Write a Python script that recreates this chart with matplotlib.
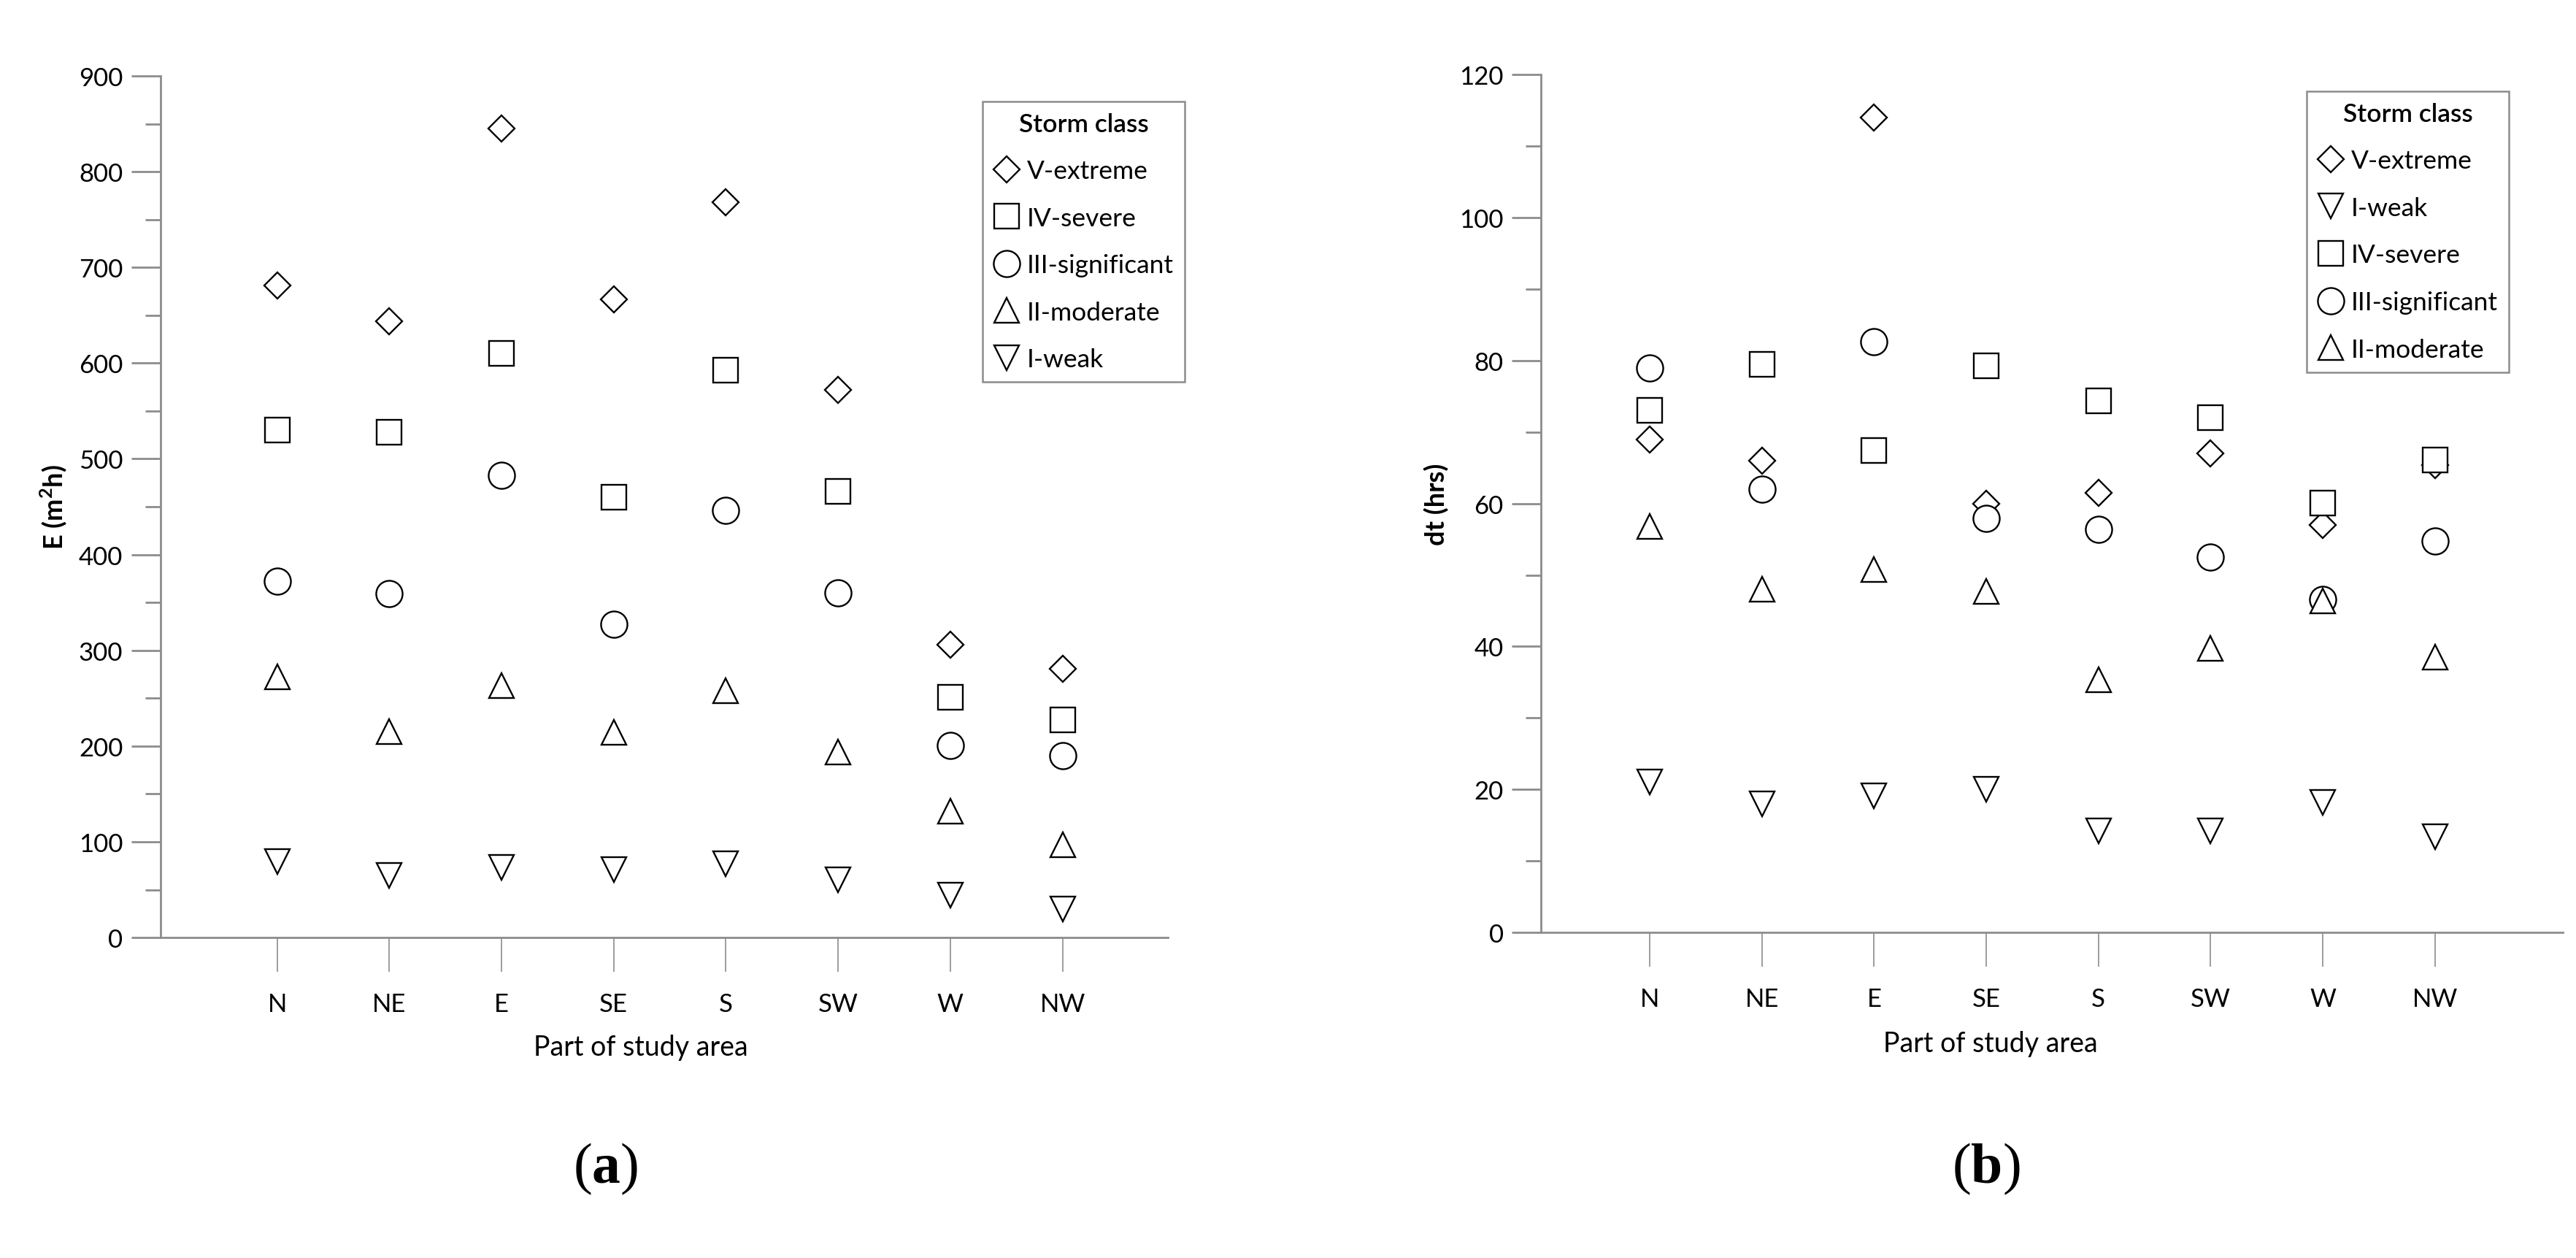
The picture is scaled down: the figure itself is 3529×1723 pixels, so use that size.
import numpy as np
import matplotlib
matplotlib.use('Agg')
import matplotlib.pyplot as plt
from matplotlib.ticker import MultipleLocator

plt.rcParams['font.family'] = ['Lato', 'DejaVu Sans']
plt.rcParams['mathtext.fontset'] = 'custom'
plt.rcParams['mathtext.rm'] = 'Liberation Serif'
plt.rcParams['mathtext.bf'] = 'Liberation Serif:bold'

areas = ['N', 'NE', 'E', 'SE', 'S', 'SW', 'W', 'NW']

# (a) storm energy E (m2h)
e_extreme = [681, 644, 845, 667, 768, 572, 306, 281]
e_severe = [530, 528, 610, 460, 593, 466, 251, 227]
e_signif = [372, 359, 483, 327, 446, 360, 201, 190]
e_moderate = [272, 215, 263, 214, 258, 194, 132, 97]
e_weak = [79, 65, 73, 71, 77, 60, 44, 30]

# (b) storm duration dt (hrs)
dt_extreme = [69, 66, 114, 60, 61.5, 67, 57, 65.4]
dt_weak = [21, 18, 19.1, 20, 14.2, 14.2, 18.2, 13.4]
dt_severe = [73, 79.5, 67.4, 79.3, 74.4, 72, 60.1, 66.1]
dt_signif = [79, 62, 82.7, 57.9, 56.4, 52.5, 46.6, 54.8]
dt_moderate = [56.8, 48, 50.8, 47.7, 35.4, 39.7, 46.4, 38.5]

styles = {
    'V-extreme': ('D', 18),
    'IV-severe': ('s', 25),
    'III-significant': ('o', 26),
    'II-moderate': ('^', 24),
    'I-weak': ('v', 24),
}

gray = '#8c8c8c'
x = np.arange(1, len(areas) + 1)


def draw(ax, series, ymax, ystep, ylabel, xlim, xlab_pos, xlab_y):
    for name, vals in series:
        m, ms = styles[name]
        ax.plot(x, vals, linestyle='none', marker=m, markersize=ms,
                markerfacecolor='white', markeredgecolor='black',
                markeredgewidth=1.7, label=name)
    ax.set_xlim(*xlim)
    ax.set_ylim(0, ymax)
    ax.set_xticks(x)
    ax.set_xticklabels(areas)
    ax.yaxis.set_major_locator(MultipleLocator(ystep))
    ax.yaxis.set_minor_locator(MultipleLocator(ystep / 2))
    for s in ['top', 'right']:
        ax.spines[s].set_visible(False)
    for s in ['left', 'bottom']:
        ax.spines[s].set_color(gray)
        ax.spines[s].set_linewidth(2)
    ax.tick_params(axis='x', length=34, width=1.2, color=gray, pad=20,
                   labelsize=25)
    ax.tick_params(axis='y', which='major', length=29, width=2, color=gray,
                   pad=8, labelsize=25)
    ax.tick_params(axis='y', which='minor', length=15, width=2, color=gray)
    ax.set_xlabel('Part of study area', fontsize=27)
    ax.xaxis.set_label_coords(xlab_pos, xlab_y)
    ax.set_ylabel(ylabel, fontsize=26, fontweight='bold', labelpad=10)


fig = plt.figure(figsize=(35.29, 17.24), dpi=100)
ax1 = fig.add_axes([0.0623, 0.2546, 0.3911, 0.6845])
ax2 = fig.add_axes([0.5982, 0.2587, 0.3967, 0.6813])

draw(ax1, [('V-extreme', e_extreme), ('IV-severe', e_severe),
           ('III-significant', e_signif), ('II-moderate', e_moderate),
           ('I-weak', e_weak)],
     900, 100, 'E (m$^\\mathregular{2}$h)', (-0.04, 8.94), 0.477, -0.112)
draw(ax2, [('V-extreme', dt_extreme), ('I-weak', dt_weak),
           ('IV-severe', dt_severe), ('III-significant', dt_signif),
           ('II-moderate', dt_moderate)],
     120, 20, 'dt (hrs)', (0.03, 9.14), 0.44, -0.114)

for ax, anchor in [(ax1, (0.3815, 0.919)), (ax2, (0.8955, 0.927))]:
    leg = ax.legend(loc='upper left', bbox_to_anchor=anchor,
                    bbox_transform=fig.transFigure, title='Storm class',
                    fontsize=25.5, title_fontsize=25.5, fancybox=False,
                    edgecolor=gray, framealpha=1, handletextpad=0.3,
                    handlelength=1.0, borderpad=0.42,
                    borderaxespad=0, labelspacing=0.92)
    leg.get_title().set_fontweight('semibold')
    leg.get_frame().set_linewidth(1.8)

fig.text(0.235, 0.071, r'$\mathrm{(}\mathbf{a}\mathrm{)}$', fontsize=56,
         ha='center', va='center')
fig.text(0.771, 0.071, r'$\mathrm{(}\mathbf{b}\mathrm{)}$', fontsize=56,
         ha='center', va='center')

fig.savefig('out.png', dpi=100, facecolor='white')
